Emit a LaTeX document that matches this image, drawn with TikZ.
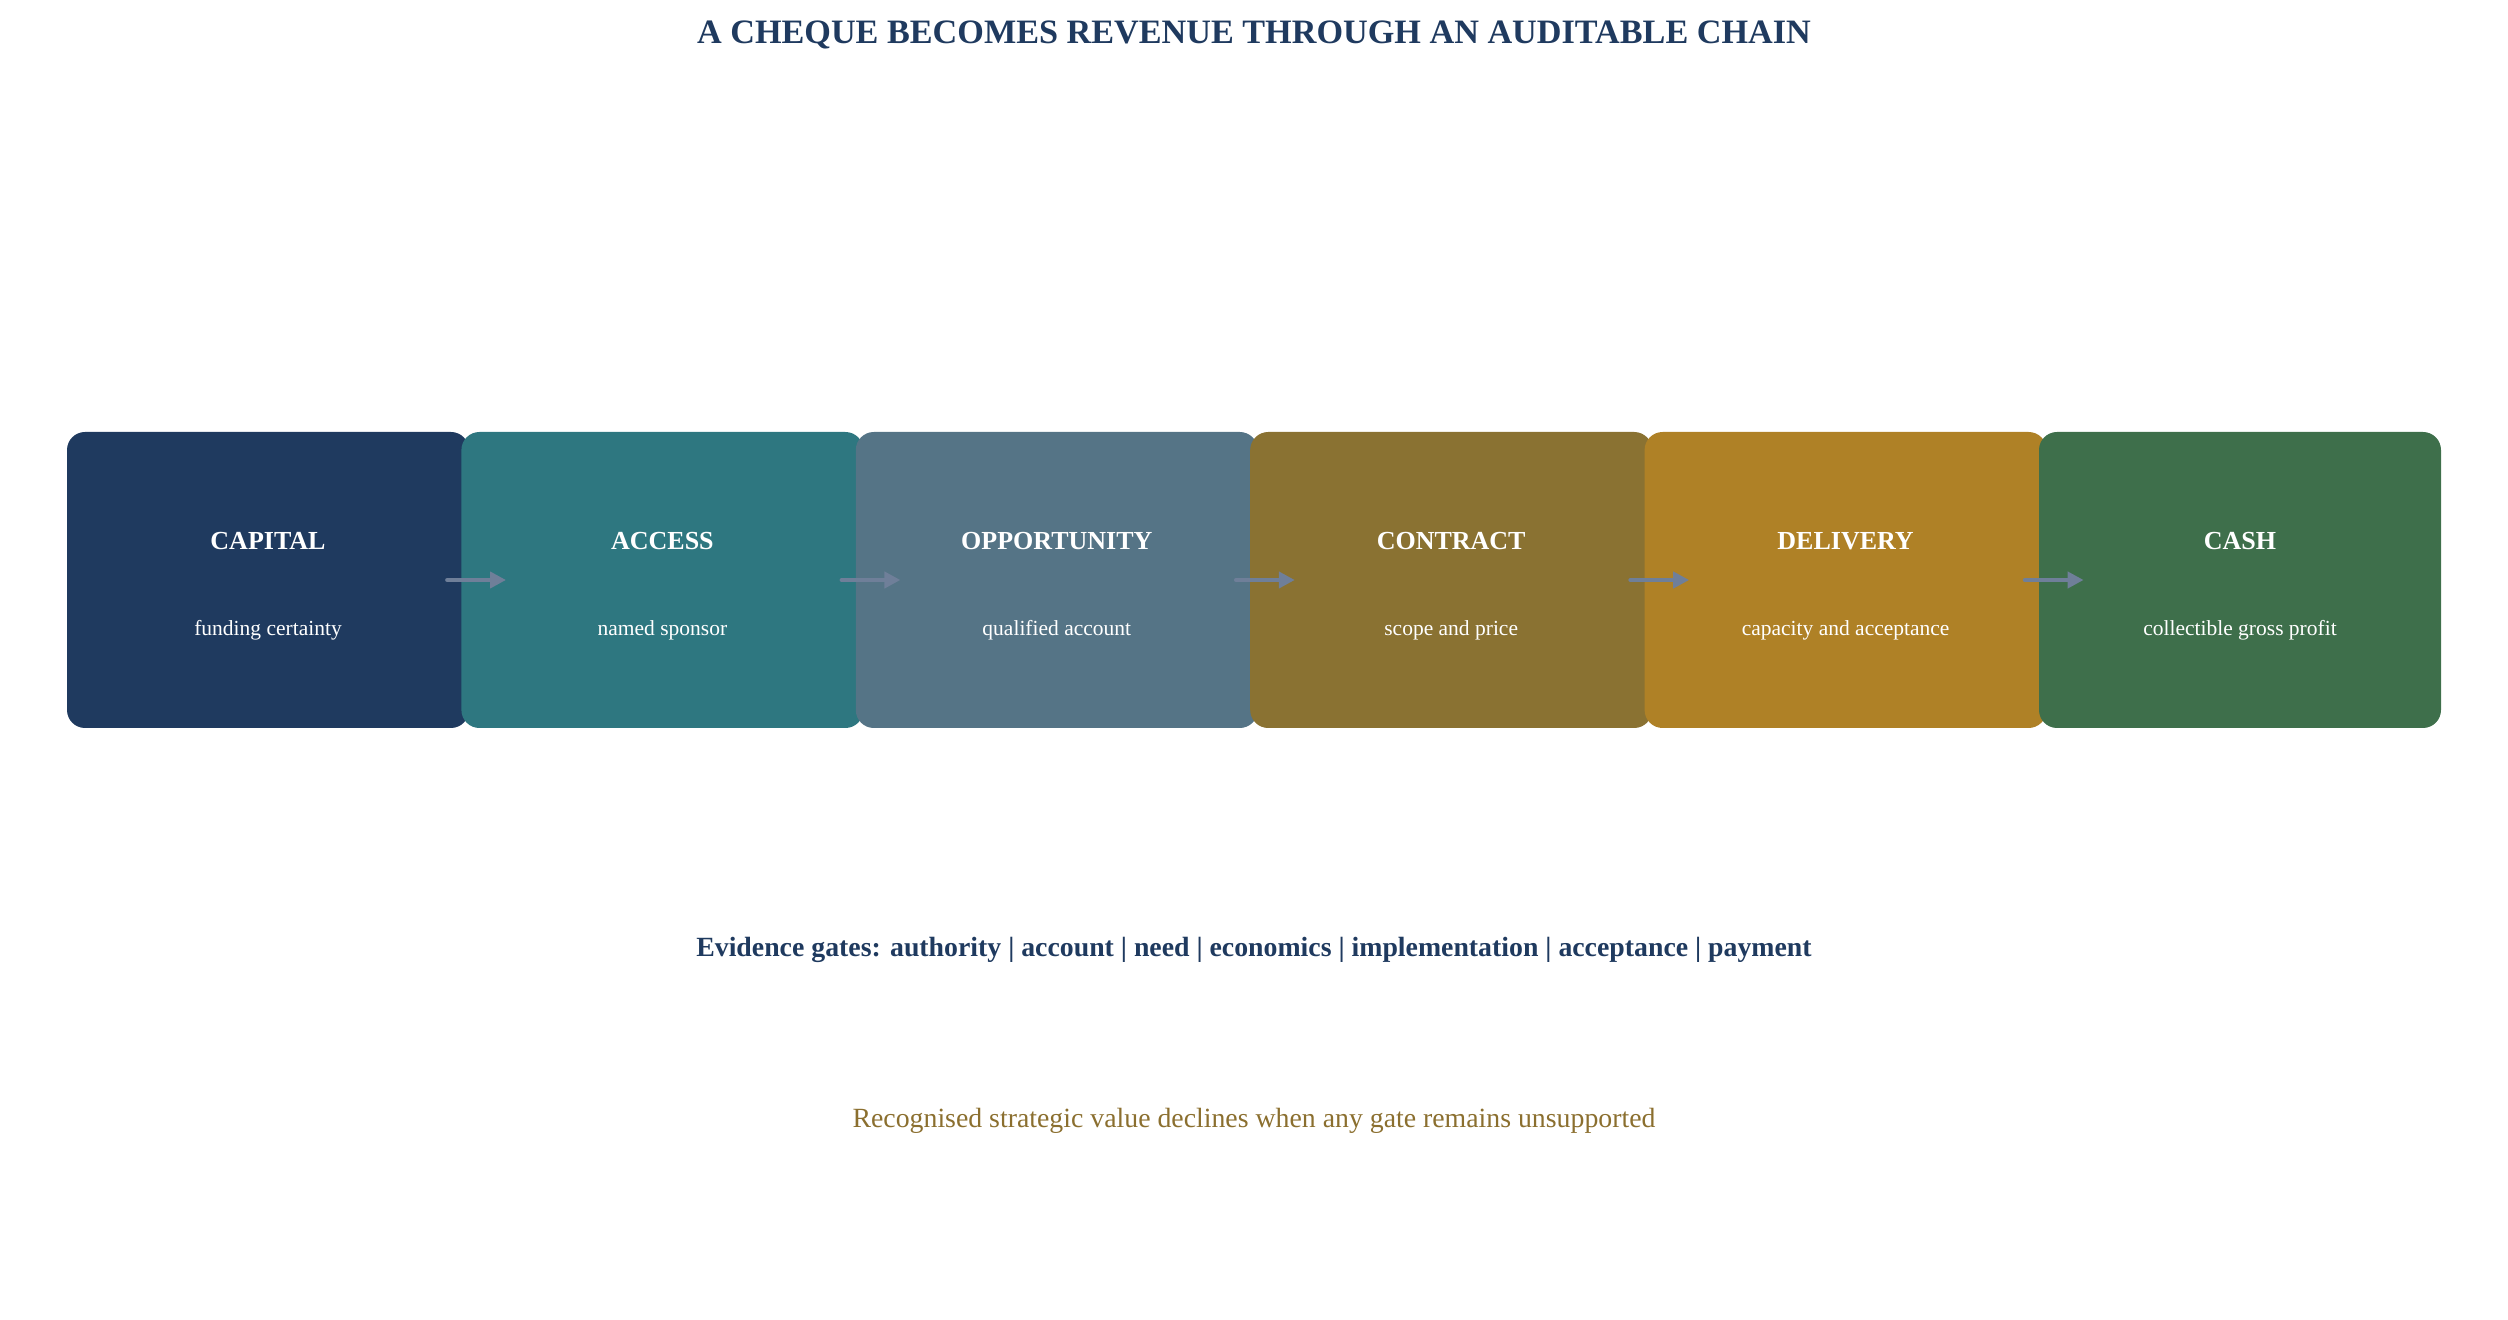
\documentclass[tikz,border=0pt]{standalone}
\usepackage{fontspec}
\setmainfont{Liberation Serif}
\usetikzlibrary{arrows.meta}

\definecolor{navy}{HTML}{1F3A5F}
\definecolor{teal}{HTML}{2E7780}
\definecolor{slate}{HTML}{557486}
\definecolor{olive}{HTML}{8A7232}
\definecolor{gold}{HTML}{AF8126}
\definecolor{forest}{HTML}{3E6F4B}
\definecolor{flowgray}{HTML}{6F7F99}
\definecolor{notebrown}{HTML}{8B6F2F}

\tikzset{
    stage/.style={rounded corners=9pt, minimum width=201pt, minimum height=148pt, inner sep=0pt},
    stagehead/.style={anchor=base, text=white, font=\bfseries\fontsize{13}{15}\selectfont},
    stagesub/.style={anchor=base, text=white, font=\fontsize{10.75}{13}\selectfont},
    flow/.style={flowgray, line width=2.25pt, line cap=round, -{Triangle[length=8pt,width=8pt]}}
}

\begin{document}
\begin{tikzpicture}[x=0.5pt, y=-0.5pt]
        \useasboundingbox (0,0) rectangle (2508,1320);

        \node[anchor=base, text=navy, font=\bfseries\fontsize{17.1}{20}\selectfont] (title) at (1254,44) {A CHEQUE BECOMES REVENUE THROUGH AN AUDITABLE CHAIN};

        % stages, each one laid over the one before
        \node[stage, fill=navy] (capital) at (268,580) {};
        \node[stage, fill=teal] (access) at (662.4,580) {};
        \node[stage, fill=slate] (opportunity) at (1056.8,580) {};
        \node[stage, fill=olive] (contract) at (1451.2,580) {};
        \node[stage, fill=gold] (delivery) at (1845.6,580) {};
        \node[stage, fill=forest] (cash) at (2240,580) {};

        \node[stagehead] (capitalhead) at ([yshift=15pt]capital.center) {CAPITAL};
        \node[stagehead] (accesshead) at ([yshift=15pt]access.center) {ACCESS};
        \node[stagehead] (opportunityhead) at ([yshift=15pt]opportunity.center) {OPPORTUNITY};
        \node[stagehead] (contracthead) at ([yshift=15pt]contract.center) {CONTRACT};
        \node[stagehead] (deliveryhead) at ([yshift=15pt]delivery.center) {DELIVERY};
        \node[stagehead] (cashhead) at ([yshift=15pt]cash.center) {CASH};

        \node[stagesub] (capitalsub) at ([yshift=-28pt]capital.center) {funding certainty};
        \node[stagesub] (accesssub) at ([yshift=-28pt]access.center) {named sponsor};
        \node[stagesub] (opportunitysub) at ([yshift=-28pt]opportunity.center) {qualified account};
        \node[stagesub] (contractsub) at ([yshift=-28pt]contract.center) {scope and price};
        \node[stagesub] (deliverysub) at ([yshift=-28pt]delivery.center) {capacity and acceptance};
        \node[stagesub] (cashsub) at ([yshift=-28pt]cash.center) {collectible gross profit};

        \draw[flow] ([xshift=-11pt]capital.east) -- ([xshift=22.5pt]access.west);
        \draw[flow] ([xshift=-11pt]access.east) -- ([xshift=22.5pt]opportunity.west);
        \draw[flow] ([xshift=-11pt]opportunity.east) -- ([xshift=22.5pt]contract.west);
        \draw[flow] ([xshift=-11pt]contract.east) -- ([xshift=22.5pt]delivery.west);
        \draw[flow] ([xshift=-11pt]delivery.east) -- ([xshift=22.5pt]cash.west);

        \node[anchor=base, text=navy, font=\bfseries\fontsize{13.9}{17}\selectfont] (gates) at (1254,957) {Evidence gates: authority | account | need | economics | implementation | acceptance | payment};
        \node[anchor=base, text=notebrown, font=\fontsize{13.9}{16}\selectfont] (note) at (1254,1127) {Recognised strategic value declines when any gate remains unsupported};
    \end{tikzpicture}
\end{document}
